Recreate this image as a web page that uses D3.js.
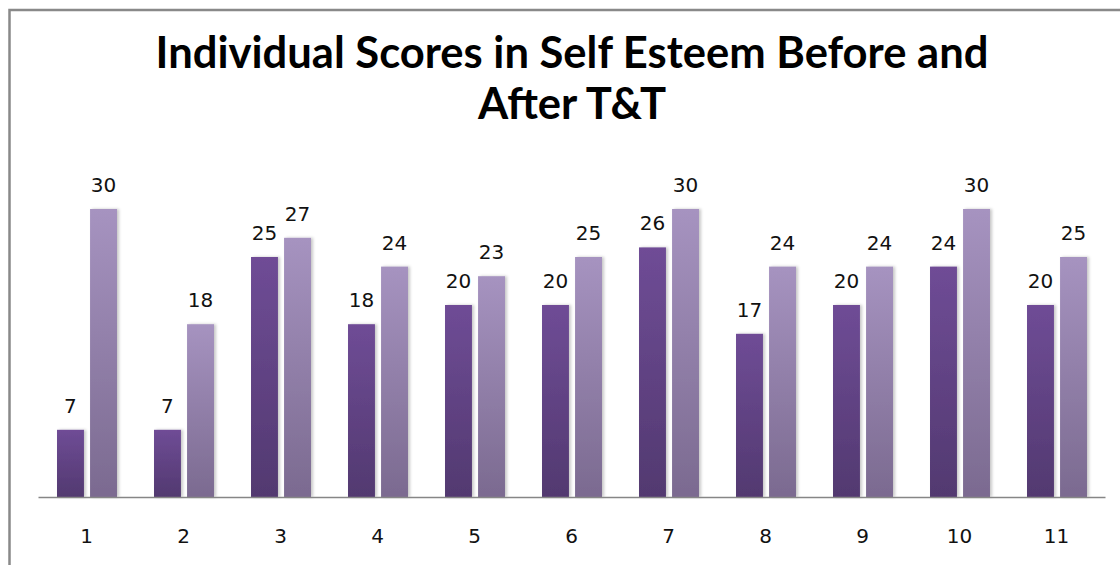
<!DOCTYPE html>
<html>
<head>
<meta charset="utf-8">
<script src="https://cdn.jsdelivr.net/npm/d3@7"></script>
<style>
  body { margin: 0; background: #fff; }
  svg { display: block; }
</style>
</head>
<body>
<div id="chart"></div>
<script>
// data
var categories = ["1", "2", "3", "4", "5", "6", "7", "8", "9", "10", "11"];
var before = [7, 7, 25, 18, 20, 20, 26, 17, 20, 24, 20];
var after = [30, 18, 27, 24, 23, 25, 30, 24, 24, 30, 25];
var seriesNames = ["before", "after"];
var titleLines = ["Individual Scores in Self Esteem Before and", "After T&T"];

var width = 1120, height = 565;
var plot = {left: 38, right: 1105, top: 161, bottom: 497};

var svg = d3.select("#chart").append("svg")
  .attr("width", width)
  .attr("height", height);

var defs = svg.append("defs");

function grad(id, top, bottom) {
  var g = defs.append("linearGradient")
    .attr("id", id)
    .attr("x1", 0).attr("y1", 0).attr("x2", 0).attr("y2", 1);
  g.append("stop").attr("offset", "0%").attr("stop-color", top);
  g.append("stop").attr("offset", "100%").attr("stop-color", bottom);
}
grad("gBefore", "#6f4c96", "#523970");
grad("gAfter", "#a693c0", "#7b6a90");

var shadow = defs.append("filter").attr("id", "shadow")
  .attr("x", "-30%").attr("y", "-10%").attr("width", "160%").attr("height", "120%");
shadow.append("feDropShadow")
  .attr("dx", 2).attr("dy", 0).attr("stdDeviation", 1.6)
  .attr("flood-color", "#000").attr("flood-opacity", 0.22);

// frame
svg.append("rect")
  .attr("x", 9.5).attr("y", 10)
  .attr("width", width + 20).attr("height", height + 20)
  .attr("fill", "none")
  .attr("stroke", "#898989")
  .attr("stroke-width", 2.5);

// title
var title = svg.append("g").attr("class", "title");
var tl = title.selectAll("text")
  .data(titleLines)
  .enter().append("text")
  .attr("x", 572)
  .attr("y", function(d, i) { return 68 + i * 51; })
  .attr("text-anchor", "middle")
  .style("font-family", "Lato, 'Open Sans', sans-serif")
  .style("font-weight", "bold")
  .style("font-size", "38px")
  .style("fill", "#000")
  .text(function(d) { return d; });
// fit first line to the width in the reference (~833px)
var w0 = tl.node().getComputedTextLength();
var fs = 38 * 833 / w0;
tl.style("font-size", fs + "px");

// scales
var x = d3.scaleBand()
  .domain(categories)
  .range([plot.left, plot.right])
  .paddingInner(0).paddingOuter(0);

var groupPad = x.bandwidth() * 0.196;
var x1 = d3.scaleBand()
  .domain(seriesNames)
  .range([groupPad, x.bandwidth() - groupPad + 1])
  .paddingInner(0.185);

var y = d3.scaleLinear()
  .domain([0, 35])
  .range([plot.bottom, plot.top]);

var rows = categories.map(function(c, i) {
  return {cat: c, vals: [
    {key: "before", v: before[i]},
    {key: "after", v: after[i]}
  ]};
});

var groups = svg.append("g").selectAll("g.group")
  .data(rows)
  .enter().append("g")
  .attr("class", "group")
  .attr("transform", function(d) { return "translate(" + x(d.cat) + ",0)"; });

groups.selectAll("rect")
  .data(function(d) { return d.vals; })
  .enter().append("rect")
  .attr("x", function(d) { return x1(d.key); })
  .attr("width", x1.bandwidth())
  .attr("y", function(d) { return y(d.v); })
  .attr("height", function(d) { return y(0) - y(d.v); })
  .attr("fill", function(d) { return d.key === "before" ? "url(#gBefore)" : "url(#gAfter)"; })
  .attr("filter", "url(#shadow)");

groups.selectAll("text.val")
  .data(function(d) { return d.vals; })
  .enter().append("text")
  .attr("class", "val")
  .attr("x", function(d) { return x1(d.key) + x1.bandwidth() / 2; })
  .attr("y", function(d) { return y(d.v) - 17; })
  .attr("text-anchor", "middle")
  .style("font-family", "'DejaVu Sans', sans-serif")
  .style("font-size", "20px")
  .style("fill", "#111")
  .text(function(d) { return d.v; });

// baseline + category axis
var xAxis = d3.axisBottom(x).tickSize(0).tickPadding(0);
var ax = svg.append("g")
  .attr("transform", "translate(0," + plot.bottom + ")")
  .call(xAxis);
ax.select(".domain").attr("stroke", "#868686").attr("stroke-width", 1.3);
ax.selectAll(".tick text")
  .attr("y", 46)
  .attr("dy", 0)
  .style("font-family", "'DejaVu Sans', sans-serif")
  .style("font-size", "20px")
  .style("fill", "#111");
</script>
</body>
</html>
